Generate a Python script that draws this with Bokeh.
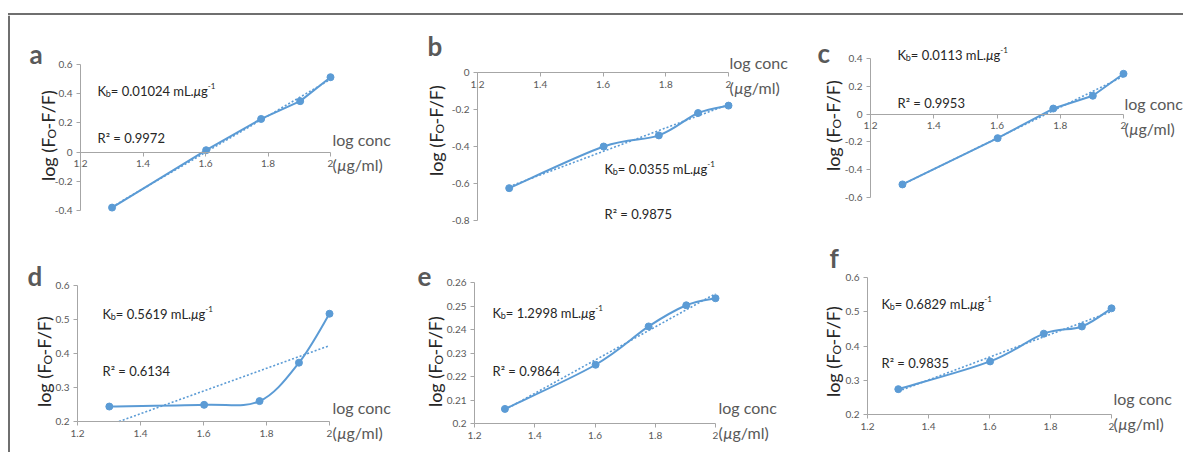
import numpy as np
from bokeh.plotting import figure
from bokeh.layouts import column, row
from bokeh.models import Range1d, FixedTicker, Label, BoxAnnotation, ColumnDataSource
from bokeh.embed import file_html
from bokeh.resources import INLINE

# ---------------- data ----------------
log_conc = [1.301, 1.602, 1.778, 1.903, 2.0]

quench_a = [-0.380, 0.013, 0.227, 0.349, 0.513]
quench_b = [-0.625, -0.400, -0.340, -0.219, -0.179]
quench_c = [-0.506, -0.173, 0.040, 0.132, 0.290]
quench_d = [0.244, 0.249, 0.260, 0.373, 0.517]
quench_e = [0.2062, 0.2250, 0.2413, 0.2503, 0.2533]
quench_f = [0.274, 0.355, 0.436, 0.457, 0.510]

panel_letters = ["a", "b", "c", "d", "e", "f"]
kb_values = ["0.01024", "0.0355", "0.0113", "0.5619", "1.2998", "0.6829"]
r2_values = ["0.9972", "0.9875", "0.9953", "0.6134", "0.9864", "0.9835"]

x_ticks = [1.2, 1.4, 1.6, 1.8, 2.0]
x_tick_labels = ["1.2", "1.4", "1.6", "1.8", "2"]

y_ticks_a = [-0.4, -0.2, 0.0, 0.2, 0.4, 0.6]
y_labels_a = ["-0.4", "-0.2", "0", "0.2", "0.4", "0.6"]
y_ticks_b = [-0.8, -0.6, -0.4, -0.2, 0.0]
y_labels_b = ["-0.8", "-0.6", "-0.4", "-0.2", "0"]
y_ticks_c = [-0.6, -0.4, -0.2, 0.0, 0.2, 0.4]
y_labels_c = ["-0.6", "-0.4", "-0.2", "0", "0.2", "0.4"]
y_ticks_d = [0.2, 0.3, 0.4, 0.5, 0.6]
y_labels_d = ["0.2", "0.3", "0.4", "0.5", "0.6"]
y_ticks_e = [0.2, 0.21, 0.22, 0.23, 0.24, 0.25, 0.26]
y_labels_e = ["0.2", "0.21", "0.22", "0.23", "0.24", "0.25", "0.26"]
y_ticks_f = [0.2, 0.3, 0.4, 0.5, 0.6]
y_labels_f = ["0.2", "0.3", "0.4", "0.5", "0.6"]

series = [quench_a, quench_b, quench_c, quench_d, quench_e, quench_f]
y_ticks = [y_ticks_a, y_ticks_b, y_ticks_c, y_ticks_d, y_ticks_e, y_ticks_f]
y_labels = [y_labels_a, y_labels_b, y_labels_c, y_labels_d, y_labels_e, y_labels_f]
smoothed = [False, True, False, True, True, True]
axis_at_zero = [True, True, True, False, False, False]

# ---------------- styling ----------------
BLUE = "#5b9bd5"
AXIS = "#a6a6a6"
GREY_TXT = "#595959"
DARK_TXT = "#262626"
FONT = "Lato"

# page layout: cells (left, top, width, height) and plot areas (left, top, right, bottom)
cells = [(10, 15, 390, 218), (400, 15, 390, 218), (790, 15, 393, 218),
         (10, 233, 390, 219), (400, 233, 390, 219), (790, 233, 393, 219)]
areas = [(80, 64, 330, 210), (477, 72, 728, 220), (870, 58, 1123, 197),
         (77, 285, 329, 421), (474, 282, 715, 423), (867, 277, 1111, 414)]
letter_pos = [(29, 53), (427, 45), (817, 52), (27, 275), (417, 276), (829, 257)]
kb_pos = [(97, 90), (604, 168), (897, 54), (102, 313), (492, 312), (881, 303)]
r2_pos = [(97, 137), (604, 213), (897, 102), (102, 370), (492, 370), (881, 362)]
xtitle_pos = [(332, 139), (729, 62), (1124, 103), (332, 407), (718, 407), (1113, 398)]
ytitle_pos = [(47, 136), (435, 131), (832, 126), (43, 362), (434, 362), (832, 352)]

# approximate advance widths (em) for Lato, used to chain text pieces
ADV = {"0": .58, "1": .58, "2": .58, "3": .58, "4": .58, "5": .58, "6": .58,
       "7": .58, "8": .58, "9": .58, ".": .27, " ": .20, "=": .58, "K": .64,
       "b": .56, "m": .86, "L": .52, "μ": .56, "g": .52, "-": .34, "l": .24,
       "o": .57, "(": .31, ")": .31, "F": .53, "O": .75, "/": .37, "R": .61,
       "²": .38, "c": .47, "n": .56}


def adv(text, size):
    return sum(ADV.get(ch, 0.55) for ch in text) * size


def rich(p, cell, ax, ay, pieces, angle=0.0):
    """Place a run of text pieces (text, size, shift, style, color) starting at page point (ax, ay)."""
    cl, ct, cw, ch = cell
    x = ax - cl
    y = ct + ch - ay
    for text, size, shift, style, color in pieces:
        if angle == 0.0:
            lx, ly = x, y + shift
        else:
            lx, ly = x - shift, y
        p.add_layout(Label(x=lx, y=ly, x_units="screen", y_units="screen",
                           text=text, angle=angle, text_font=FONT,
                           text_font_size=f"{size}px", text_font_style=style,
                           text_color=color, text_align="left",
                           text_baseline="alphabetic"))
        if angle == 0.0:
            x += adv(text, size)
        else:
            y += adv(text, size)


def bezier_segments(xs, ys):
    x = np.asarray(xs, dtype=float)
    y = np.asarray(ys, dtype=float)
    xp = np.concatenate([[x[0]], x, [x[-1]]])
    yp = np.concatenate([[y[0]], y, [y[-1]]])
    seg = dict(x0=[], y0=[], x1=[], y1=[], cx0=[], cy0=[], cx1=[], cy1=[])
    for i in range(len(x) - 1):
        seg["x0"].append(x[i]); seg["y0"].append(y[i])
        seg["x1"].append(x[i + 1]); seg["y1"].append(y[i + 1])
        seg["cx0"].append(x[i] + (xp[i + 2] - xp[i]) / 6)
        seg["cy0"].append(y[i] + (yp[i + 2] - yp[i]) / 6)
        seg["cx1"].append(x[i + 1] - (xp[i + 3] - xp[i + 1]) / 6)
        seg["cy1"].append(y[i + 1] - (yp[i + 3] - yp[i + 1]) / 6)
    return seg


def style_axis(ax):
    ax.axis_line_color = AXIS
    ax.axis_line_width = 1
    ax.major_tick_line_color = AXIS
    ax.major_tick_in = 0
    ax.major_tick_out = 4
    ax.minor_tick_line_color = None
    ax.major_label_text_font = FONT
    ax.major_label_text_font_size = "10px"
    ax.major_label_text_color = GREY_TXT
    ax.major_label_standoff = 4


def panel(i):
    cell = cells[i]
    cl, ct, cw, ch = cell
    fl, ft, fr, fb = areas[i]
    yt = y_ticks[i]
    x0, x1 = x_ticks[0], x_ticks[-1]
    y0, y1 = min(yt), max(yt)
    # the plotting area sits inside the cell; extend the ranges to the cell edges
    kx = (x1 - x0) / (fr - fl)
    ky = (y1 - y0) / (fb - ft)
    xr = Range1d(x0 - (fl - cl) * kx, x1 + (cl + cw - fr) * kx)
    yr = Range1d(y0 - (ct + ch - fb) * ky, y1 + (ft - ct) * ky)
    p = figure(width=cw, height=ch, toolbar_location=None, output_backend="svg",
               x_range=xr, y_range=yr, min_border=0)
    p.outline_line_color = None
    p.grid.visible = False
    p.background_fill_color = "white"
    p.border_fill_color = "white"

    p.xaxis.ticker = FixedTicker(ticks=x_ticks)
    p.xaxis.major_label_overrides = dict(zip(x_ticks, x_tick_labels))
    p.yaxis.ticker = FixedTicker(ticks=yt)
    p.yaxis.major_label_overrides = dict(zip(yt, y_labels[i]))
    style_axis(p.xaxis[0])
    style_axis(p.yaxis[0])
    p.xaxis.fixed_location = 0 if axis_at_zero[i] else y0
    p.xaxis.bounds = (x0, x1)
    p.yaxis.fixed_location = x0
    p.yaxis.bounds = (y0, y1)

    ys = series[i]
    if smoothed[i]:
        src = ColumnDataSource(bezier_segments(log_conc, ys))
        p.bezier(x0="x0", y0="y0", x1="x1", y1="y1", cx0="cx0", cy0="cy0",
                 cx1="cx1", cy1="cy1", source=src, line_color=BLUE, line_width=2)
    else:
        p.line(log_conc, ys, line_color=BLUE, line_width=2)
    p.scatter(log_conc, ys, size=7, fill_color=BLUE, line_color=BLUE)

    # linear trend line over the data span, kept inside the value axis
    slope, icpt = np.polyfit(log_conc, ys, 1)
    t_start, t_end = min(log_conc), max(log_conc)
    if slope * t_start + icpt < y0:
        t_start = (y0 - icpt) / slope
    tx = [t_start, t_end]
    p.line(tx, [slope * t + icpt for t in tx], line_color=BLUE, line_width=1.6,
           line_dash="2 2")

    # panel letter
    rich(p, cell, *letter_pos[i], [(panel_letters[i], 26, 0, "bold", GREY_TXT)])
    # binding constant
    rich(p, cell, *kb_pos[i], [
        ("K", 13, 0, "normal", DARK_TXT),
        ("b", 9, -3, "normal", DARK_TXT),
        (f"= {kb_values[i]} mL.", 13, 0, "normal", DARK_TXT),
        ("μ", 13, 0, "italic", DARK_TXT),
        ("g", 13, 0, "normal", DARK_TXT),
        ("-1", 8, 5, "normal", DARK_TXT),
    ])
    rich(p, cell, *r2_pos[i], [(f"R² = {r2_values[i]}", 13, 0, "normal", DARK_TXT)])
    # x axis title
    xx, xy = xtitle_pos[i]
    rich(p, cell, xx, xy, [("log conc", 16, 0, "normal", GREY_TXT)])
    rich(p, cell, xx, xy + 25, [("(", 16, 0, "normal", GREY_TXT),
                                ("μ", 16, 0, "italic", GREY_TXT),
                                ("g/ml)", 16, 0, "normal", GREY_TXT)])
    # y axis title, rotated and centred on the given point
    ytitle = [("log (F", 18, 0, "normal", DARK_TXT),
              ("O", 12, -4, "normal", DARK_TXT),
              ("-F/F)", 18, 0, "normal", DARK_TXT)]
    total = sum(adv(t, s) for t, s, *_ in ytitle)
    cx, cy = ytitle_pos[i]
    rich(p, cell, cx, cy + total / 2, ytitle, angle=np.pi / 2)
    return p


def bar(width, height, left, right, bottom, top):
    b = figure(width=width, height=height, toolbar_location=None, output_backend="svg",
               x_range=Range1d(0, width), y_range=Range1d(0, height),
               x_axis_location=None, y_axis_location=None, min_border=0)
    b.grid.visible = False
    b.outline_line_color = None
    b.add_layout(BoxAnnotation(left=left, right=right, bottom=bottom, top=top,
                               fill_color="#6f6f6f", fill_alpha=1, line_color=None))
    return b


top_bar = bar(1183, 15, 7.5, 1183, 0.5, 2.5)
left_bar = bar(10, 437, 7.5, 9.5, 0, 437)

panels = [panel(i) for i in range(6)]
grid = column(row(*panels[:3]), row(*panels[3:]))
layout = column(top_bar, row(left_bar, grid))

open("out.html", "w").write(file_html(layout, INLINE))
